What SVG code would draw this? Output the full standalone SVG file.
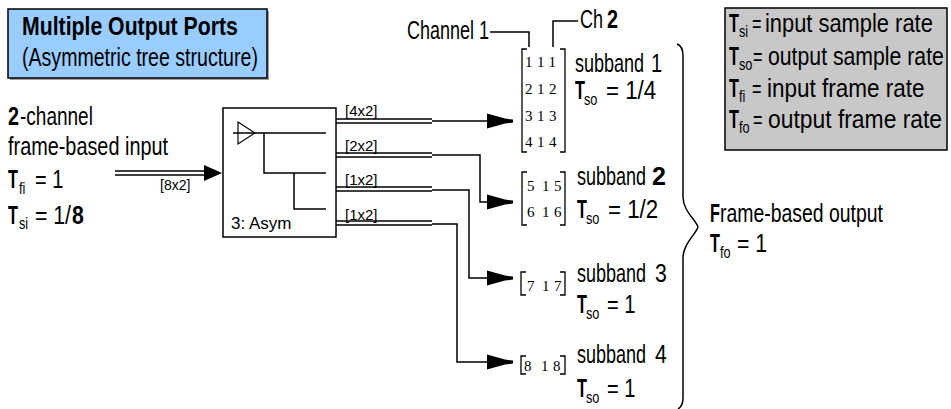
<svg xmlns="http://www.w3.org/2000/svg" xmlns:xlink="http://www.w3.org/1999/xlink" width="951" height="409" viewBox="0 0 951 409">
<style>
.f{font-family:"Liberation Sans",Arial,sans-serif;fill:#000}
.L{font-size:26px}
.B{font-weight:bold}
.S{font-size:17px}
.lab{font-size:15px}
.mx{font-family:"Liberation Serif","Times New Roman",serif;font-size:15px;fill:#000}
.m2{letter-spacing:4.5px}
.ln{fill:none;stroke:#000;stroke-width:1.5}
.bk{fill:none;stroke:#000;stroke-width:1.3}
</style>
<defs>
<path id="arr" d="M-26,-7.5 L-8,-2.5 L0,-1.5 L0,1.5 L-8,2.5 L-26,7.5 Z" fill="#000"/>
</defs>
<rect width="951" height="409" fill="#fff"/>

<g id="title">
<rect x="10" y="11" width="259" height="69" fill="#a0a0a0"/>
<rect x="8" y="9" width="259" height="69" fill="#99ccff" stroke="#000" stroke-width="1.5"/>
<text class="f L B" transform="matrix(0.817 0 0 1 22 35)">Multiple Output Ports</text>
<text class="f L" transform="matrix(0.753 0 0 1 22 66)">(Asymmetric tree structure)</text>
</g>

<g id="legend">
<rect x="725" y="8" width="222" height="142" fill="#c8c8c8" stroke="#000" stroke-width="1.5"/>
<text class="f L B" transform="matrix(0.625 0 0 1 729 32)">T</text>
<text class="f S" transform="matrix(0.75 0 0 1 739 37)">si</text>
<text class="f L" transform="matrix(0.625 0 0 1 752 32)">=</text>
<text class="f L" transform="matrix(0.842 0 0 1 765 32)">input sample rate</text>
<text class="f L B" transform="matrix(0.625 0 0 1 729 65)">T</text>
<text class="f S" transform="matrix(0.75 0 0 1 739 70)">so</text>
<text class="f L" transform="matrix(0.625 0 0 1 753 65)">=</text>
<text class="f L" transform="matrix(0.817 0 0 1 768 65)">output sample rate</text>
<text class="f L B" transform="matrix(0.625 0 0 1 729 97)">T</text>
<text class="f S" transform="matrix(0.75 0 0 1 739 102)">fi</text>
<text class="f L" transform="matrix(0.625 0 0 1 752 97)">=</text>
<text class="f L" transform="matrix(0.866 0 0 1 767 97)">input frame rate</text>
<text class="f L B" transform="matrix(0.625 0 0 1 729 128)">T</text>
<text class="f S" transform="matrix(0.75 0 0 1 739 133)">fo</text>
<text class="f L" transform="matrix(0.625 0 0 1 753 128)">=</text>
<text class="f L" transform="matrix(0.88 0 0 1 768 128)">output frame rate</text>
</g>

<g id="input">
<text class="f L B" transform="matrix(0.76 0 0 1 8 125)">2</text>
<text class="f L" transform="matrix(0.731 0 0 1 20 125)">-channel</text>
<text class="f L" transform="matrix(0.764 0 0 1 8 155)">frame-based input</text>
<text class="f L B" transform="matrix(0.625 0 0 1 8 188)">T</text>
<text class="f S" transform="matrix(0.75 0 0 1 19 194)">fi</text>
<text class="f L" transform="matrix(0.77 0 0 1 35 188)">= 1</text>
<text class="f L B" transform="matrix(0.625 0 0 1 8 224)">T</text>
<text class="f S" transform="matrix(0.75 0 0 1 19 229)">si</text>
<text class="f L" transform="matrix(0.817 0 0 1 35 224)">= 1/</text>
<text class="f L B" transform="matrix(0.817 0 0 1 72 224)">8</text>
</g>

<g id="asym">
<rect x="223" y="108" width="113" height="129" fill="#fff" stroke="#000" stroke-width="1.5"/>
<polygon points="238,122 255,133 238,144" fill="none" stroke="#000" stroke-width="1.2"/>
<path class="ln" d="M233,133 H326 M264,133 V173 H326 M294,173 V209 H326"/>
<text class="f" x="231" y="229" font-size="17">3: Asym</text>
</g>

<g id="connectors">
<path class="ln" d="M115,171 H206 M115,175 H206"/>
<polygon points="204,165 222,173 204,181" fill="#000"/>
<text class="f" x="160" y="190" font-size="14">[8x2]</text>

<path class="ln" d="M336,119 H432 M336,123 H432 M432,121 H489"/>
<use xlink:href="#arr" x="513" y="121"/>
<text class="f lab" x="345" y="116">[4x2]</text>

<path class="ln" d="M336,153 H432 M336,157 H432 M432,155 H480 V202 H489"/>
<use xlink:href="#arr" x="513" y="202"/>
<text class="f lab" x="345" y="151">[2x2]</text>

<path class="ln" d="M336,187 H432 M336,191 H432 M432,190 H469 V278 H489"/>
<use xlink:href="#arr" x="513" y="278"/>
<text class="f lab" x="345" y="185">[1x2]</text>

<path class="ln" d="M336,221 H432 M336,225 H432 M432,224 H457 V362 H489"/>
<use xlink:href="#arr" x="513" y="362"/>
<text class="f lab" x="345" y="220">[1x2]</text>

<path class="ln" d="M490,32 H529 V47 M553,47 V21 H578"/>
<path class="ln" d="M677,44 Q683,46 683,56 L683,197 C683,211 696,220 698,227 C696,234 683,244 683,258 L683,398 Q683,406 678,409"/>
</g>

<g id="channels">
<text class="f L" transform="matrix(0.693 0 0 1 407 39)">Channel 1</text>
<text class="f L" transform="matrix(0.693 0 0 1 580 28)">Ch</text>
<text class="f L B" transform="matrix(0.76 0 0 1 607 28)">2</text>
</g>

<g id="subband1">
<path class="bk" d="M527,49 H522 V152 H527 M560,49 H565 V152 H560"/>
<text class="mx" x="525" y="67">1</text><text class="mx m2" x="537" y="67">11</text>
<text class="mx" x="525" y="94">2</text><text class="mx m2" x="537" y="94">12</text>
<text class="mx" x="525" y="121">3</text><text class="mx m2" x="537" y="121">13</text>
<text class="mx" x="525" y="147">4</text><text class="mx m2" x="537" y="147">14</text>
<text class="f L" transform="matrix(0.693 0 0 1 575 72)">subband</text>
<text class="f L" transform="matrix(0.77 0 0 1 651 72)">1</text>
<text class="f L B" transform="matrix(0.625 0 0 1 575 99)">T</text>
<text class="f S" transform="matrix(0.75 0 0 1 584 105)">so</text>
<text class="f L" transform="matrix(0.856 0 0 1 606 99)">= 1/4</text>
</g>

<g id="subband2">
<path class="bk" d="M527,172 H522 V225 H527 M560,172 H565 V225 H560"/>
<text class="mx" x="527" y="191">5</text><text class="mx m2" x="542" y="191">15</text>
<text class="mx" x="527" y="217">6</text><text class="mx m2" x="542" y="217">16</text>
<text class="f L" transform="matrix(0.693 0 0 1 577 185)">subband</text>
<text class="f L B" transform="matrix(0.962 0 0 1 652 185)">2</text>
<text class="f L B" transform="matrix(0.625 0 0 1 577 218)">T</text>
<text class="f S" transform="matrix(0.75 0 0 1 586 224)">so</text>
<text class="f L" transform="matrix(0.856 0 0 1 608 218)">= 1/2</text>
</g>

<g id="subband3">
<path class="bk" d="M526,272 H521 V295 H526 M560,272 H565 V295 H560"/>
<text class="mx" x="527" y="291">7</text><text class="mx m2" x="542" y="291">17</text>
<text class="f L" transform="matrix(0.693 0 0 1 577 282)">subband</text>
<text class="f L" transform="matrix(0.817 0 0 1 655 282)">3</text>
<text class="f L B" transform="matrix(0.625 0 0 1 577 313)">T</text>
<text class="f S" transform="matrix(0.75 0 0 1 586 319)">so</text>
<text class="f L" transform="matrix(0.77 0 0 1 607 313)">= 1</text>
</g>

<g id="subband4">
<path class="bk" d="M526,356 H521 V374 H526 M560,356 H565 V374 H560"/>
<text class="mx" x="524" y="371">8</text><text class="mx m2" x="541" y="371">18</text>
<text class="f L" transform="matrix(0.693 0 0 1 577 363)">subband</text>
<text class="f L" transform="matrix(0.817 0 0 1 655 363)">4</text>
<text class="f L B" transform="matrix(0.625 0 0 1 577 397)">T</text>
<text class="f S" transform="matrix(0.75 0 0 1 586 403)">so</text>
<text class="f L" transform="matrix(0.77 0 0 1 607 397)">= 1</text>
</g>

<g id="output">
<text class="f L B" transform="matrix(0.625 0 0 1 710 222)">F</text>
<text class="f L" transform="matrix(0.747 0 0 1 720 222)">rame-based output</text>
<text class="f L B" transform="matrix(0.625 0 0 1 710 252)">T</text>
<text class="f S" transform="matrix(0.75 0 0 1 720 258)">fo</text>
<text class="f L" transform="matrix(0.817 0 0 1 737 252)">= 1</text>
</g>
</svg>
